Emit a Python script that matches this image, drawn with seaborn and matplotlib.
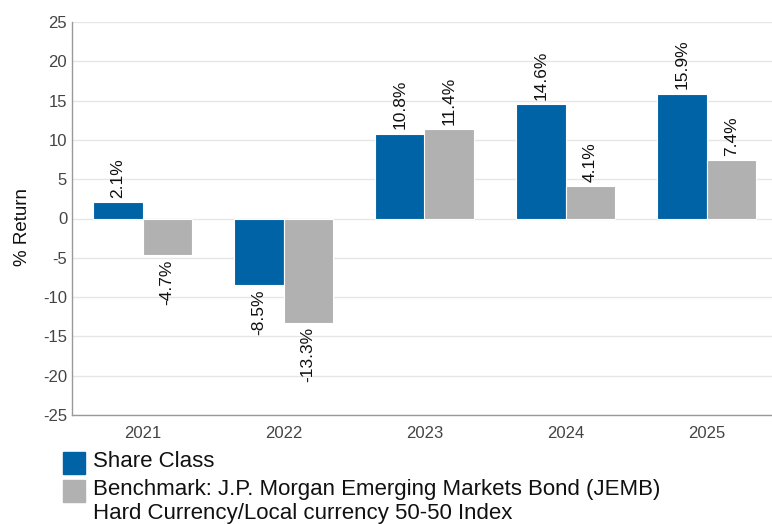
import matplotlib.pyplot as plt
import matplotlib.patches as mpatches
import seaborn as sns
import pandas as pd

years = ['2021', '2022', '2023', '2024', '2025']
share_class = [2.1, -8.5, 10.8, 14.6, 15.9]
benchmark = [-4.7, -13.3, 11.4, 4.1, 7.4]
series_names = ['Share Class',
                'Benchmark: J.P. Morgan Emerging Markets Bond (JEMB)\nHard Currency/Local currency 50-50 Index']
colors = ['#0063A6', '#B1B1B1']

df = pd.DataFrame({
    'Year': years * 2,
    'Return': share_class + benchmark,
    'Series': [series_names[0]] * len(years) + [series_names[1]] * len(years),
})

sns.set_style('white')
plt.rcParams['font.family'] = ['Liberation Sans', 'DejaVu Sans']
plt.rcParams['axes.unicode_minus'] = False

W, H = 772, 524
fig = plt.figure(figsize=(W / 100, H / 100), dpi=100)
ax = fig.add_axes([72 / W, 109 / H, 705 / W, 393 / H])

sns.barplot(data=df, x='Year', y='Return', hue='Series', palette=colors,
            saturation=1, width=0.7, edgecolor='white', linewidth=0.8,
            ax=ax, legend=False)

for cont in ax.containers:
    ax.bar_label(cont, labels=[f'{v:.1f}%' for v in cont.datavalues],
                 rotation=90, padding=3, fontsize=12.5, color='#111111')

ax.set_ylim(-25, 25)
ax.set_yticks(range(-25, 30, 5))
ax.yaxis.grid(True, color='#E6E6E6', linewidth=1)
ax.set_axisbelow(True)
ax.tick_params(axis='both', length=0, labelsize=12, labelcolor='#444444')
ax.tick_params(axis='x', pad=8)
ax.set_xlabel('')
ax.set_ylabel('% Return', fontsize=13.5, color='#111111')
ax.yaxis.set_label_coords(-0.058, 0.478)
for side in ['top', 'right']:
    ax.spines[side].set_visible(False)
for side in ['left', 'bottom']:
    ax.spines[side].set_color('#999999')
    ax.spines[side].set_linewidth(1)

# legend drawn by hand so the grey swatch lines up with the first text line
swatch_tops = [452, 480]
text_tops = [451, 479]
for c, n, st, tt in zip(colors, series_names, swatch_tops, text_tops):
    fig.patches.append(mpatches.Rectangle((63 / W, 1 - (st + 22) / H), 22 / W, 22 / H,
                                          color=c, transform=fig.transFigure, figure=fig))
    fig.text(93 / W, 1 - tt / H, n, fontsize=16, color='#111111', va='top', ha='left',
             linespacing=1.2)

plt.savefig('out.png', dpi=100)
